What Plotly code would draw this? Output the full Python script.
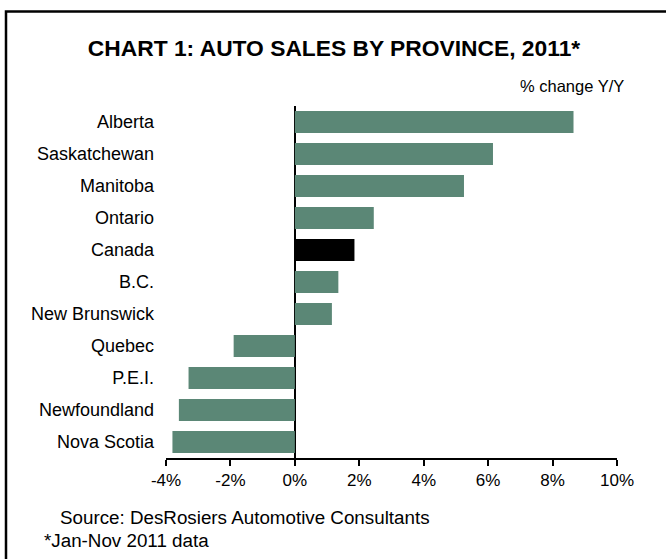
import plotly.graph_objects as go

provinces = ["Alberta", "Saskatchewan", "Manitoba", "Ontario", "Canada", "B.C.",
             "New Brunswick", "Quebec", "P.E.I.", "Newfoundland", "Nova Scotia"]
pct_change = [8.65, 6.15, 5.25, 2.45, 1.85, 1.35, 1.15, -1.9, -3.3, -3.6, -3.8]
tick_vals = [-4, -2, 0, 2, 4, 6, 8, 10]
tick_text = ["-4%", "-2%", "0%", "2%", "4%", "6%", "8%", "10%"]

GREEN = "#5B8776"
colors = ["#000000" if p == "Canada" else GREEN for p in provinces]

W, H = 666, 559
L, R, T, B = 166, 617, 106, 458  # plot area pixels

def px_x(x):
    return (x - L) / (R - L)

def px_y(y):
    return (B - y) / (B - T)

fig = go.Figure(go.Bar(
    x=pct_change, y=provinces, orientation="h",
    marker=dict(color=colors, line=dict(width=0)),
))

FONT = "Arial, Liberation Sans, sans-serif"

fig.update_layout(
    width=W, height=H,
    margin=dict(l=L, r=W - R, t=T, b=H - B),
    paper_bgcolor="white", plot_bgcolor="white",
    bargap=0.31,
    showlegend=False,
    font=dict(family=FONT, size=17, color="black"),
    title=dict(text="<b>CHART 1: AUTO SALES BY PROVINCE, 2011*</b>",
               x=334 / W, xref="container", xanchor="center",
               y=1 - 48 / H, yref="container", yanchor="middle",
               font=dict(family=FONT, size=22.8, color="black")),
    xaxis=dict(range=[-4, 10], tickvals=tick_vals, ticktext=tick_text,
               showgrid=False, zeroline=True, zerolinecolor="black", zerolinewidth=2,
               showline=True, linecolor="black", linewidth=2,
               ticks="outside", ticklen=6, tickwidth=2, tickcolor="black",
               tickfont=dict(size=17), fixedrange=True),
    yaxis=dict(categoryorder="array", categoryarray=provinces, autorange="reversed",
               showgrid=False, zeroline=False, showline=False, ticks="",
               ticklabelstandoff=11, tickfont=dict(size=18)),
    annotations=[
        dict(text="% change Y/Y", xref="paper", yref="paper",
             x=px_x(626), y=px_y(86), xanchor="right", yanchor="middle",
             showarrow=False, font=dict(size=16.5)),
        dict(text="Source: DesRosiers Automotive Consultants", xref="paper", yref="paper",
             x=px_x(58), y=px_y(517), xanchor="left", yanchor="middle",
             showarrow=False, font=dict(size=18.8)),
        dict(text="*Jan-Nov 2011 data", xref="paper", yref="paper",
             x=px_x(42), y=px_y(540), xanchor="left", yanchor="middle",
             showarrow=False, font=dict(size=18.8)),
    ],
    shapes=[
        dict(type="rect", xref="paper", yref="paper",
             x0=px_x(6), x1=px_x(720), y0=px_y(620), y1=px_y(11.5),
             line=dict(color="black", width=2.5), fillcolor="rgba(0,0,0,0)",
             layer="above"),
    ],
)

fig.write_html("out.html", config={"displayModeBar": False})
